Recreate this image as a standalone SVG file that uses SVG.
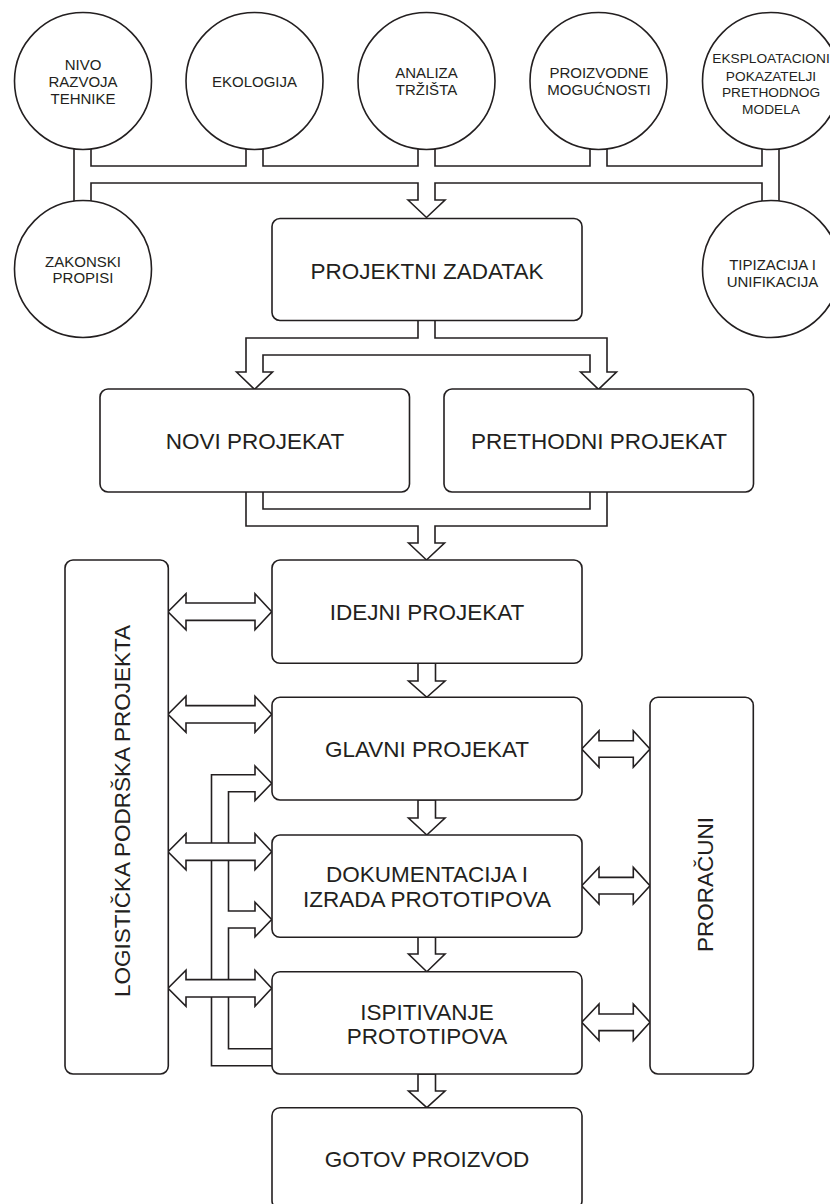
<svg xmlns="http://www.w3.org/2000/svg" width="830" height="1204" viewBox="0 0 830 1204">
<style>
.bg{fill:#ffffff}
.node{fill:#ffffff;stroke:#231f20;stroke-width:1.6}
.pipeO{fill:none;stroke:#231f20;stroke-width:18.6;stroke-linecap:butt;stroke-linejoin:miter}
.pipeI{fill:none;stroke:#ffffff;stroke-width:15.4;stroke-linecap:butt;stroke-linejoin:miter}
.head{fill:#ffffff;stroke:#231f20;stroke-width:1.6;stroke-linejoin:miter}
.t{font-family:"Liberation Sans",Arial,Helvetica,sans-serif;fill:#231f20;text-anchor:middle}
.big{font-size:22.5px}
.small{font-size:15px}
.tiny{font-size:13.7px}
</style>
<rect class="bg" x="0" y="0" width="830" height="1204"/>

<g id="connectors">
  <!-- pipe outlines -->
  <path class="pipeO" d="M82.5 140 V210 M770.5 140 V210 M82.5 174.5 H770.5 M254.5 140 V174.5 M426.5 140 V200 M598.5 140 V174.5"/>
  <path class="pipeO" d="M426.5 315 V346.5 M254.5 372 V346.5 H598.5 V372"/>
  <path class="pipeO" d="M254.5 487 V517.5 H598.5 V487 M426.5 517.5 V543"/>
  <path class="pipeO" d="M276 1057.2 H220 V783.3 H255 M220 919.5 H255"/>
  <!-- arrowheads of pipes -->
  <polygon class="head" points="408,200 426.5,217.5 445,200"/>
  <polygon class="head" points="236.5,372 254.5,389.3 272.5,372"/>
  <polygon class="head" points="580.5,372 598.5,389.3 616.5,372"/>
  <polygon class="head" points="408.5,543 426.5,560 444.5,543"/>
  <polygon class="head" points="255,766 271.7,783.3 255,800.6"/>
  <polygon class="head" points="255,902.2 271.7,919.5 255,936.8"/>
  <!-- pipe interiors -->
  <path class="pipeI" d="M82.5 140 V210 M770.5 140 V210 M82.5 174.5 H770.5 M254.5 140 V174.5 M426.5 140 V201.5 M598.5 140 V174.5"/>
  <path class="pipeI" d="M426.5 315 V346.5 M254.5 373.5 V346.5 H598.5 V373.5"/>
  <path class="pipeI" d="M254.5 487 V517.5 H598.5 V487 M426.5 517.5 V544.5"/>
  <path class="pipeI" d="M276 1057.2 H220 V783.3 H256.5 M220 919.5 H256.5"/>
  <!-- straight arrows between boxes -->
  <polygon class="head" points="418,663.3 418,681 408.5,681 426.8,697.3 445,681 435.5,681 435.5,663.3"/>
  <polygon class="head" points="418,800 418,818 408.5,818 426.8,835 445,818 435.5,818 435.5,800"/>
  <polygon class="head" points="418,937.3 418,954 408.5,954 426.8,971.7 445,954 435.5,954 435.5,937.3"/>
  <polygon class="head" points="418,1074 418,1091 408.5,1091 426.8,1107.7 445,1091 435.5,1091 435.5,1074"/>
  <!-- double arrows left (logistics) -->
  <polygon class="head" points="168,611.7 186,593.7 186,603 255,603 255,593.7 271.7,611.7 255,629.7 255,620.4 186,620.4 186,629.7"/>
  <polygon class="head" points="168,714.3 186,696.3 186,705.6 255,705.6 255,696.3 271.7,714.3 255,732.3 255,723 186,723 186,732.3"/>
  <polygon class="head" points="168,851.7 186,833.7 186,843 255,843 255,833.7 271.7,851.7 255,869.7 255,860.4 186,860.4 186,869.7"/>
  <polygon class="head" points="168,988.3 186,970.3 186,979.6 255,979.6 255,970.3 271.7,988.3 255,1006.3 255,997 186,997 186,1006.3"/>
  <!-- double arrows right (proracuni) -->
  <polygon class="head" points="581.7,749 599,730.7 599,740.7 633.3,740.7 633.3,730.7 650,749 633.3,767.3 633.3,757.3 599,757.3 599,767.3"/>
  <polygon class="head" points="581.7,885.7 599,867.4 599,877.4 633.3,877.4 633.3,867.4 650,885.7 633.3,904 633.3,894 599,894 599,904"/>
  <polygon class="head" points="581.7,1022.3 599,1004 599,1014 633.3,1014 633.3,1004 650,1022.3 633.3,1040.6 633.3,1030.6 599,1030.6 599,1040.6"/>
</g>

<g id="n-nivo"><circle class="node" cx="83" cy="81" r="68.5"/>
  <text class="t small" x="83" y="70">NIVO</text><text class="t small" x="83" y="87">RAZVOJA</text><text class="t small" x="83" y="104">TEHNIKE</text></g>
<g id="n-ekologija"><circle class="node" cx="254.5" cy="81" r="68.5"/>
  <text class="t small" x="254.5" y="87">EKOLOGIJA</text></g>
<g id="n-analiza"><circle class="node" cx="426.5" cy="81" r="68.5"/>
  <text class="t small" x="426.5" y="78.3">ANALIZA</text><text class="t small" x="426.5" y="95">TRŽIŠTA</text></g>
<g id="n-proizvodne"><circle class="node" cx="598.5" cy="81" r="68.5"/>
  <text class="t small" x="599" y="78.3">PROIZVODNE</text><text class="t small" x="599" y="95">MOGUĆNOSTI</text></g>
<g id="n-eksploatacioni"><circle class="node" cx="771" cy="81" r="68.5"/>
  <text class="t tiny" x="771" y="63.3">EKSPLOATACIONI</text><text class="t tiny" x="771" y="80.5">POKAZATELJI</text><text class="t tiny" x="771" y="97.3">PRETHODNOG</text><text class="t tiny" x="771" y="114">MODELA</text></g>
<g id="n-zakonski"><circle class="node" cx="83" cy="269" r="68.5"/>
  <text class="t small" x="83" y="266.7">ZAKONSKI</text><text class="t small" x="83" y="283.3">PROPISI</text></g>
<g id="n-tipizacija"><circle class="node" cx="771" cy="269" r="68.5"/>
  <text class="t small" x="772.5" y="270">TIPIZACIJA I</text><text class="t small" x="772.5" y="286.7">UNIFIKACIJA</text></g>

<g id="n-projektni"><rect class="node" x="272" y="218.5" width="310" height="102" rx="8"/>
  <text class="t big" x="427" y="279">PROJEKTNI ZADATAK</text></g>
<g id="n-novi"><rect class="node" x="100" y="389" width="309.5" height="103" rx="8"/>
  <text class="t big" x="255" y="449">NOVI PROJEKAT</text></g>
<g id="n-prethodni"><rect class="node" x="444" y="389" width="309.5" height="103" rx="8"/>
  <text class="t big" x="599" y="449">PRETHODNI PROJEKAT</text></g>
<g id="n-idejni"><rect class="node" x="272" y="560" width="310" height="103.3" rx="8"/>
  <text class="t big" x="427" y="620">IDEJNI PROJEKAT</text></g>
<g id="n-glavni"><rect class="node" x="272" y="697.3" width="310" height="102.7" rx="8"/>
  <text class="t big" x="427" y="756.7">GLAVNI PROJEKAT</text></g>
<g id="n-dokumentacija"><rect class="node" x="272" y="835" width="310" height="102.3" rx="8"/>
  <text class="t big" x="427" y="882.3">DOKUMENTACIJA I</text><text class="t big" x="427" y="907.3">IZRADA PROTOTIPOVA</text></g>
<g id="n-ispitivanje"><rect class="node" x="272" y="971.7" width="310" height="102.3" rx="8"/>
  <text class="t big" x="427" y="1019.5">ISPITIVANJE</text><text class="t big" x="427" y="1043.5">PROTOTIPOVA</text></g>
<g id="n-gotov"><rect class="node" x="272" y="1107.7" width="310" height="101" rx="8"/>
  <text class="t big" x="427" y="1166.7">GOTOV PROIZVOD</text></g>
<g id="n-logisticka"><rect class="node" x="65" y="560" width="103.3" height="514" rx="8"/>
  <text class="t big" x="130" y="811" transform="rotate(-90 130 811)">LOGISTIČKA PODRŠKA PROJEKTA</text></g>
<g id="n-proracuni"><rect class="node" x="650" y="697.3" width="103.3" height="376.7" rx="8"/>
  <text class="t big" x="712.7" y="884.5" transform="rotate(-90 712.7 884.5)">PRORAČUNI</text></g>
</svg>
